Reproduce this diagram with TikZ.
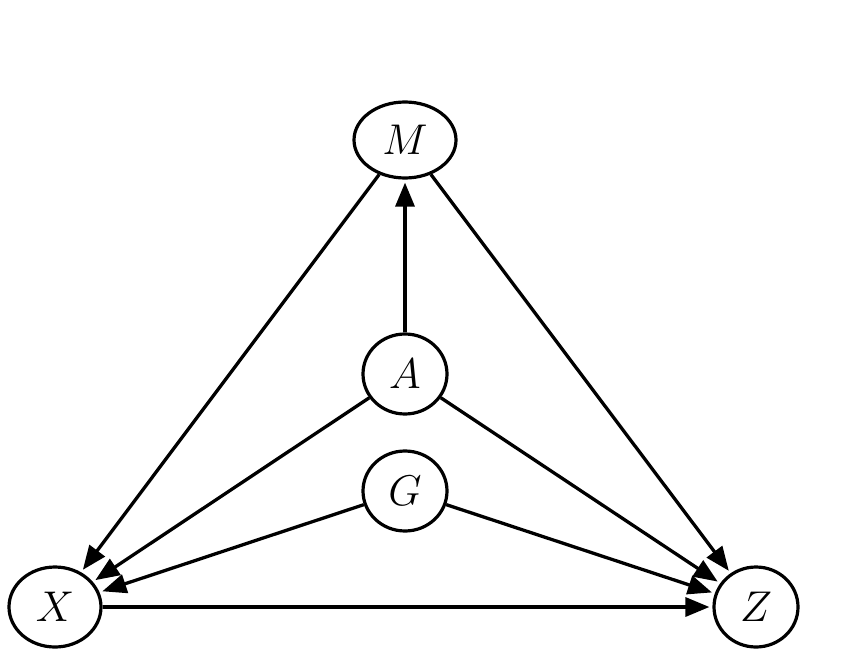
\documentclass[tikz,border=0pt]{standalone}
\usepackage{fix-cm}
\usepackage{amsmath}
\usepackage{tikz}
\usetikzlibrary{arrows.meta,shapes.geometric}

\tikzset{
  var/.style={draw, ellipse, line width=3.2pt, inner sep=0pt,
    minimum width=84pt, minimum height=80pt, font=\fontsize{43}{50}\selectfont},
  edge/.style={line width=3.3pt, -{Triangle[length=24pt,width=19pt]}, shorten >=3pt}
}

\begin{document}
\begin{tikzpicture}[x=1pt, y=-1pt]
            \useasboundingbox (0,0) rectangle (850,655);

            \node[var, minimum width=102pt, minimum height=76pt] (M) at (405,140) {\(M\)};
            \node[var] (A) at (405,374) {\(A\)};
            \node[var] (G) at (405,491) {\(G\)};
            \node[var, minimum width=92pt] (X) at (55,607) {\(X\)};
            \node[var] (Z) at (756,607) {\(Z\)};

            \draw[edge] (A) -- (M);
            \draw[edge] (M) -- (X);
            \draw[edge] (M) -- (Z);
            \draw[edge] (A) -- (X);
            \draw[edge] (A) -- (Z);
            \draw[edge] (G) -- (X);
            \draw[edge] (G) -- (Z);
            \draw[edge] (X) -- (Z);
        \end{tikzpicture}
\end{document}
